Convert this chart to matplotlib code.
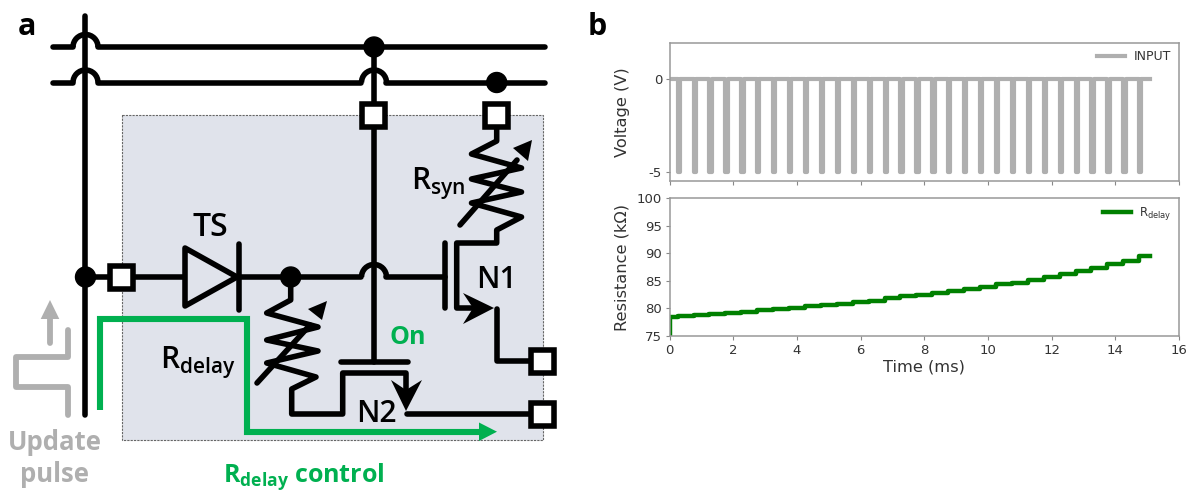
import matplotlib
matplotlib.use('Agg')
import matplotlib.pyplot as plt
from matplotlib.patches import Arc, Circle, Polygon, Rectangle

# pulse train, ms
pulse_start = [0.25, 0.75, 1.25, 1.75, 2.25, 2.75, 3.25, 3.75, 4.25, 4.75,
               5.25, 5.75, 6.25, 6.75, 7.25, 7.75, 8.25, 8.75, 9.25, 9.75,
               10.25, 10.75, 11.25, 11.75, 12.25, 12.75, 13.25, 13.75, 14.25, 14.75]
pulse_width = 0.07
v_low = -5
v_rest = 0
t_end = 15.1

# R_delay level after each pulse, kOhm (first entry is before the first pulse)
r_start = 75
r_levels = [78.45, 78.57, 78.8, 79.0, 79.2, 79.4, 79.7, 79.9, 80.14, 80.4,
            80.6, 80.9, 81.17, 81.4, 81.84, 82.2, 82.5, 82.8, 83.17, 83.5,
            83.95, 84.4, 84.7, 85.2, 85.7, 86.25, 86.8, 87.4, 88.0, 88.67, 89.46]

time_ticks = [0, 2, 4, 6, 8, 10, 12, 14, 16]
voltage_ticks = [-5, 0]
resistance_ticks = [75, 80, 85, 90, 95, 100]

W, H = 1195, 495
BLACK = '#000000'
GREEN = '#00B050'
GRAY = '#AFAFAF'
FONT = 'Open Sans'
WIRE = 4.0

plt.rcParams['mathtext.default'] = 'regular'
plt.rcParams['axes.unicode_minus'] = False

fig = plt.figure(figsize=(W / 100, H / 100), dpi=100)

# schematic is drawn in pixel coordinates on a full-figure axes
sch = fig.add_axes([0, 0, 1, 1])
sch.set_xlim(0, W)
sch.set_ylim(H, 0)
sch.axis('off')


def wire(pts, color=BLACK, lw=WIRE, cap='round', join='round', z=3):
    xs = [p[0] for p in pts]
    ys = [p[1] for p in pts]
    sch.plot(xs, ys, color=color, lw=lw, solid_capstyle=cap, solid_joinstyle=join, zorder=z)


def hop_wire(y, x0, x1, hops, r=12.5):
    # horizontal wire that jumps over the verticals at hops
    x = x0
    for h in hops:
        wire([(x, y), (h - r, y)])
        sch.add_patch(Arc((h, y), 2 * r, 2 * r, theta1=180, theta2=360, color=BLACK, lw=WIRE, zorder=3))
        x = h + r
    wire([(x, y), (x1, y)])


def dot(x, y, r=10):
    sch.add_patch(Circle((x, y), r, color=BLACK, zorder=5))


def square(x, y):
    sch.add_patch(Rectangle((x - 11.5, y - 11.5), 23, 23, fc='white', ec=BLACK, lw=4.0,
                            joinstyle='miter', zorder=6))


def head(pts, color=BLACK):
    sch.add_patch(Polygon(pts, closed=True, fc=color, ec='none', zorder=5))


def label(x, y, s, size=21.5, color=BLACK, weight='semibold', ha='left'):
    sch.text(x, y, s, fontsize=size, color=color, fontweight=weight, family=FONT,
             ha=ha, va='baseline', zorder=7)


# shaded cell
sch.add_patch(Rectangle((122, 115), 421, 325, fc='#E0E3EB', ec='#666666', lw=0.8, ls=(0, (2, 1)), zorder=1))

# rails
wire([(85.5, 16), (85.5, 415)])
hop_wire(47, 53, 545, [85.5])
hop_wire(82.5, 53, 545, [85.5, 374])
wire([(374, 47), (374, 362)])
dot(374, 47)
dot(496.7, 82.5)
dot(85.5, 277)
dot(290.7, 277)
square(374, 115)
square(496.7, 115)
square(122, 277)
square(543, 361)
square(543, 414)

# gate line with TS
hop_wire(277, 85.5, 445, [374])
sch.add_patch(Polygon([(185, 248), (237, 277), (185, 306)], closed=True, fc='#E0E3EB', ec=BLACK, lw=WIRE,
                      joinstyle='round', zorder=4))
wire([(238.7, 244), (238.7, 310)])

# Rsyn and its arrow
wire([(496.7, 115), (496.7, 141), (471.5, 154), (521.5, 168), (471.5, 179), (521.5, 192), (471.5, 203),
      (521.5, 217), (496.7, 230), (496.7, 243), (456.7, 243), (456.7, 308), (485, 308)])
wire([(460, 225), (517, 160)])
head([(532, 140), (513, 148), (528, 161)])

# N1
wire([(445, 243), (445, 308)])
head([(494, 308), (463, 293), (473, 308), (463, 324)])
wire([(497, 309), (497, 361), (530, 361)])

# Rdelay and its arrow
wire([(290.7, 277), (290.7, 300), (266.7, 313), (318, 327), (266.7, 340), (318, 351), (266.7, 363),
      (316, 377), (291.7, 389), (291.7, 414), (342.7, 414), (342.7, 373), (406, 373), (406, 395)])
wire([(257, 383), (310, 325)])
head([(327, 301), (308, 309), (322, 320)])

# N2
wire([(340.7, 362), (408, 362)])
head([(406, 411), (391, 380), (406, 390), (422, 380)])
wire([(407, 414), (530, 414)])

# control path
wire([(100, 410), (100, 319), (247.3, 319), (247.3, 431.7), (482, 431.7)], color=GREEN, lw=4.4, cap='butt',
     join='miter', z=2)
head([(497, 431.7), (479, 422.5), (479, 441)], color=GREEN)

# update pulse
wire([(68.3, 415), (68.3, 386.7), (15.7, 386.7), (15.7, 356.7), (68.3, 356.7), (68.3, 330)], color=GRAY, lw=4.2)
wire([(50, 343), (50, 315)], color=GRAY, lw=4.2)
head([(50, 300), (40.7, 319), (59.3, 319)], color=GRAY)

# labels
label(18, 35, 'a', size=22, weight='bold')
label(588, 35, 'b', size=22, weight='bold')
label(193, 236, 'TS', size=23)
label(410.7, 190, r'R$_{syn}$')
label(476, 288, 'N1')
label(356, 422, 'N2')
label(160, 369, r'R$_{delay}$')
label(390, 344, 'On', color=GREEN, weight='bold', size=18)
label(223, 482, r'R$_{delay}$ control', color=GREEN, weight='bold', size=18)
label(55, 450, 'Update', color=GRAY, weight='bold', size=18.5, ha='center')
label(55, 482, 'pulse', color=GRAY, weight='bold', size=18.5, ha='center')

# voltage trace from the pulse list
t_v = [0]
v = [v_rest]
for p in pulse_start:
    t_v += [p, p, p + pulse_width, p + pulse_width]
    v += [v_rest, v_low, v_low, v_rest]
t_v.append(t_end)
v.append(v_rest)

# resistance staircase
t_r = [0, 0] + pulse_start + [t_end]
r = [r_start] + r_levels + [r_levels[-1]]


def style_axes(ax):
    for s in ax.spines.values():
        s.set_color('#999999')
        s.set_linewidth(1.1)
    ax.tick_params(length=3, width=0.8, color='#888888', labelcolor='#333333', labelsize=9.5, pad=2.5)
    ax.set_xlim(0, 16)
    ax.set_xticks(time_ticks)


ax1 = fig.add_axes([669.7 / W, 1 - 181 / H, 509.3 / W, 138.5 / H])
ax1.plot(t_v, v, color=GRAY, lw=3, label='INPUT')
style_axes(ax1)
ax1.set_ylim(-5.5, 2)
ax1.set_yticks(voltage_ticks)
ax1.set_xticklabels([])
ax1.set_ylabel('Voltage (V)', fontsize=11.7, color='#333333')
ax1.yaxis.set_label_coords(-0.078, 0.5)
ax1.legend(loc='upper right', frameon=False, fontsize=9, handlelength=2.3, handletextpad=0.7,
           borderaxespad=0.2, labelcolor='#333333')

ax2 = fig.add_axes([669.7 / W, 1 - 336 / H, 509.3 / W, 137.7 / H])
ax2.plot(t_r, r, color='green', lw=3.2, drawstyle='steps-post', label=r'R$_{delay}$')
style_axes(ax2)
ax2.set_ylim(75, 100)
ax2.set_yticks(resistance_ticks)
ax2.set_xlabel('Time (ms)', fontsize=11.7, color='#333333', labelpad=2)
ax2.set_ylabel('Resistance (k\u03a9)', fontsize=11.7, color='#333333')
ax2.yaxis.set_label_coords(-0.078, 0.5)
ax2.legend(loc='upper right', frameon=False, fontsize=8.5, handlelength=2.4, handletextpad=0.7,
           borderaxespad=0.2, labelcolor='#333333')

fig.savefig('out.png', dpi=100)
